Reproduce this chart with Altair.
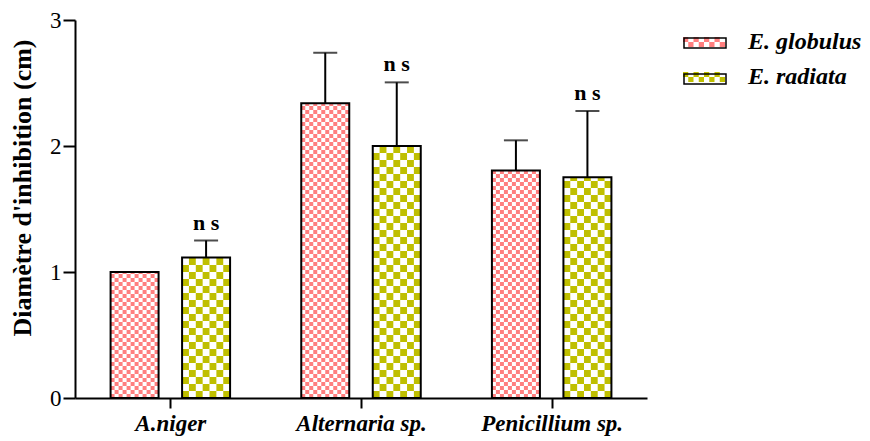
import json
import math
import altair as alt
import pandas as pd

# ---------------- data ----------------
categories = ["A.niger", "Alternaria sp.", "Penicillium sp."]
series = ["E. globulus", "E. radiata"]
globulus_mean = [1.00, 2.34, 1.805]
globulus_err = [0.0, 0.40, 0.24]
radiata_mean = [1.115, 2.00, 1.752]
radiata_err = [0.135, 0.505, 0.526]
radiata_sig = ["n s", "n s", "n s"]
colors = ["#FF7F7F", "#BFBF00"]
y_ticks = [0, 1, 2, 3]

# ---------------- layout constants ----------------
PLOT_W, PLOT_H = 572, 378
X_DOMAIN = [-0.5, 2.5]
Y_DOMAIN = [0, 3]
px_x = PLOT_W / (X_DOMAIN[1] - X_DOMAIN[0])
px_y = PLOT_H / (Y_DOMAIN[1] - Y_DOMAIN[0])
offsets = [-0.1875, 0.1875]
half_w = 24 / px_x
cell_cols = [12, 7]      # checker columns per bar
cell_px = [4.0, 7.0]     # checker cell height in pixels
FONT = "Liberation Serif"

rows = []
for s_i, (name, means, errs) in enumerate(
    [(series[0], globulus_mean, globulus_err), (series[1], radiata_mean, radiata_err)]
):
    for c_i, cat in enumerate(categories):
        center = c_i + offsets[s_i]
        rows.append(
            dict(
                category=cat,
                series=name,
                series_outline=name,
                center=center,
                left=center - half_w,
                right=center + half_w,
                base=0.0,
                mean=means[c_i],
                upper=means[c_i] + errs[c_i],
                err=errs[c_i],
                s_i=s_i,
                sig=radiata_sig[c_i] if s_i == 1 else "",
            )
        )
bars = pd.DataFrame(rows)

# checker pattern cells built from the bars
cells = []
for r in rows:
    s_i = r["s_i"]
    nc = cell_cols[s_i]
    cw = (r["right"] - r["left"]) / nc
    rh = cell_px[s_i] / px_y
    nr = math.ceil(r["mean"] / rh - 1e-9)
    for ri in range(nr):
        for ci in range(nc):
            if (ri + ci) % 2 == 0:
                y0 = ri * rh
                y1 = min((ri + 1) * rh, r["mean"])
                cells.append(
                    dict(
                        series=r["series"],
                        x=r["left"] + ci * cw,
                        x2=r["left"] + (ci + 1) * cw,
                        y=y0,
                        y2=y1,
                    )
                )
cells = pd.DataFrame(cells)

# legend symbol paths
h = 10 / 42
checker_parts = []
for ri, (ya, yb) in enumerate([(-h, 0), (0, h)]):
    for ci in range(8):
        if (ri + ci) % 2 == 0:
            xa = -1 + ci * 0.25
            xb = xa + 0.25
            checker_parts.append(f"M{xa:.3f},{ya:.3f}H{xb:.3f}V{yb:.3f}H{xa:.3f}Z")
checker_path = "".join(checker_parts)
outline_path = f"M-1,{-h:.3f}H1V{h:.3f}H-1Z"

label_expr = json.dumps(categories) + "[datum.value]"

x_scale = alt.Scale(domain=X_DOMAIN, nice=False, zero=False)
y_scale = alt.Scale(domain=Y_DOMAIN, nice=False, zero=False)

x_axis = alt.Axis(
    values=[0, 1, 2],
    labelExpr=label_expr,
    title=None,
    grid=False,
    domainColor="black",
    domainWidth=2,
    tickColor="black",
    tickWidth=2,
    tickSize=10,
    labelFont=FONT,
    labelFontSize=23,
    labelFontWeight="bold",
    labelFontStyle="italic",
    labelColor="black",
    labelPadding=4,
)
y_axis = alt.Axis(
    values=y_ticks,
    title="Diamètre d'inhibition (cm)",
    grid=False,
    domainColor="black",
    domainWidth=2,
    tickColor="black",
    tickWidth=2,
    tickSize=12,
    labelFont=FONT,
    labelFontSize=23,
    labelColor="black",
    labelPadding=2,
    titleFont=FONT,
    titleFontSize=26,
    titleFontWeight="bold",
    titleColor="black",
    titleX=-40,
    titleY=167.5,
)

legend_common = dict(
    orient="none",
    legendX=608,
    legendY=1,
    title=None,
    padding=0,
    offset=0,
    symbolSize=1764,
    labelOffset=23,
    rowPadding=2,
    labelFont=FONT,
    labelFontSize=24,
    labelFontWeight="bold",
    labelFontStyle="italic",
    labelLimit=400,
)

cells_layer = alt.Chart(cells).mark_rect(strokeWidth=0).encode(
    x=alt.X("x:Q", scale=x_scale, axis=x_axis),
    x2="x2:Q",
    y=alt.Y("y:Q", scale=y_scale, axis=y_axis),
    y2="y2:Q",
    fill=alt.Fill(
        "series:N",
        scale=alt.Scale(domain=series, range=colors),
        legend=alt.Legend(
            symbolType=checker_path,
            symbolStrokeWidth=0,
            labelColor="black",
            **legend_common,
        ),
    ),
)

outline_layer = alt.Chart(bars).mark_rect(fill="transparent", strokeWidth=2).encode(
    x=alt.X("left:Q", scale=x_scale, axis=x_axis),
    x2="right:Q",
    y=alt.Y("base:Q", scale=y_scale, axis=y_axis),
    y2="mean:Q",
    stroke=alt.Stroke(
        "series_outline:N",
        scale=alt.Scale(range=["black", "black"]),
        legend=alt.Legend(
            symbolType=outline_path,
            symbolStrokeWidth=1.5,
            symbolFillColor="transparent",
            symbolStrokeColor="black",
            labelExpr="''",
            **legend_common,
        ),
    ),
)

err_base = alt.Chart(bars).transform_filter("datum.err > 0")

err_rule = err_base.mark_rule(color="black", strokeWidth=2).encode(
    x=alt.X("center:Q", scale=x_scale, axis=x_axis),
    y=alt.Y("mean:Q", scale=y_scale, axis=y_axis),
    y2="upper:Q",
)

err_cap = err_base.mark_tick(
    color="black", orient="horizontal", size=24, thickness=2
).encode(
    x=alt.X("center:Q", scale=x_scale, axis=x_axis),
    y=alt.Y("upper:Q", scale=y_scale, axis=y_axis),
)

sig_text = alt.Chart(bars).transform_filter("datum.sig != ''").mark_text(
    font=FONT,
    fontSize=22,
    fontWeight="bold",
    color="black",
    baseline="alphabetic",
    align="center",
    dy=-11,
).encode(
    x=alt.X("center:Q", scale=x_scale, axis=x_axis),
    y=alt.Y("upper:Q", scale=y_scale, axis=y_axis),
    text="sig:N",
)

chart = (
    alt.layer(cells_layer, outline_layer, err_rule, err_cap, sig_text)
    .properties(
        width=PLOT_W,
        height=PLOT_H,
        autosize=alt.AutoSizeParams(type="none"),
        padding={"left": 75, "top": 20, "right": 870 - 75 - PLOT_W, "bottom": 441 - 20 - PLOT_H},
        background="white",
    )
    .configure_view(stroke=None)
)

chart.save("out.html", embed_options={"renderer": "svg", "actions": False})
